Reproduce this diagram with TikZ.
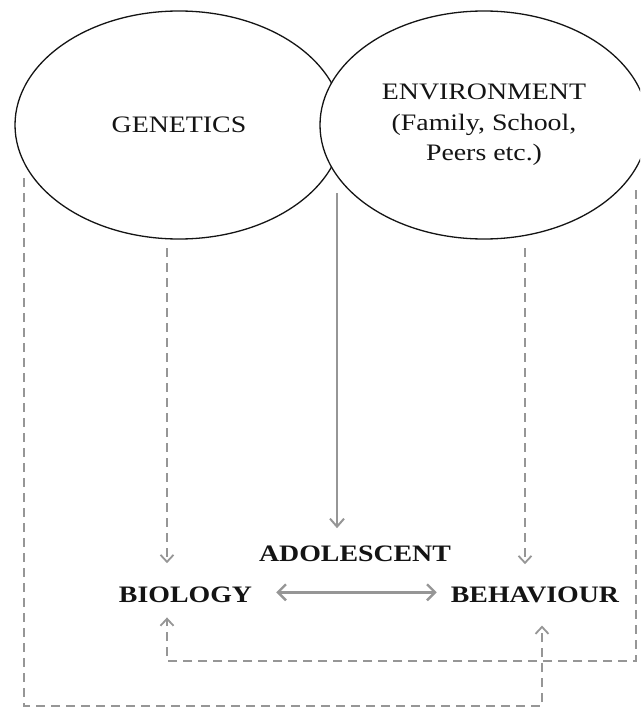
\documentclass[tikz,border=0pt]{standalone}
\usepackage{fontspec}
\setmainfont[FakeStretch=1.18]{Liberation Serif}
\usetikzlibrary{arrows.meta,shapes.geometric}
\definecolor{linegray}{RGB}{150,150,150}
\definecolor{inkblack}{RGB}{20,20,20}
\begin{document}
\begin{tikzpicture}[x=1pt,y=-1pt,
  factor/.style={ellipse,draw=inkblack,line width=1.3pt,fill=white,
    minimum width=328pt,minimum height=228pt,inner sep=0pt,
    font=\fontsize{23.6}{30.5}\selectfont,text=inkblack,align=center},
  label/.style={inner sep=0pt,anchor=base,
    font=\fontsize{23.6}{28}\selectfont\bfseries,text=inkblack},
  influence/.style={draw=linegray,line width=2.4pt,dash pattern=on 9pt off 6pt,
    -{Straight Barb[length=7pt,width=13pt,line width=1.8pt]}},
  direct/.style={draw=linegray,line width=2.4pt,
    -{Straight Barb[length=8pt,width=14pt,line width=2pt]}},
  mutual/.style={draw=linegray,line width=3.5pt,
    {Straight Barb[length=8pt,width=16pt,line width=2.4pt]}-{Straight Barb[length=8pt,width=16pt,line width=2.4pt]}}]
  \useasboundingbox (0,0) rectangle (640,709);
  \clip (0,0) rectangle (640,709);

  % the two sources of influence
  \node[factor] (gen) at (179,125) {GENETICS};
  \node[factor] (env) at (484,125) {ENVIRONMENT\\(Family, School,\\Peers etc.)};

  % the adolescent and its two aspects
  \node[label] (ado) at (355,561) {ADOLESCENT};
  \node[label] (bio) at (185.5,602) {BIOLOGY};
  \node[label] (beh) at (535,602) {BEHAVIOUR};

  % start and corner points of the connectors
  \coordinate (both) at (337,193);
  \coordinate (gdown) at (167,248);
  \coordinate (edown) at (525,248);
  \coordinate (gside) at (24,178);
  \coordinate (gcorner) at (24,706);
  \coordinate (hcorner) at (542,706);
  \coordinate (eside) at (636,190);
  \coordinate (ecorner) at (636,661);
  \coordinate (bcorner) at (167,661);

  % joint influence on the adolescent
  \draw[direct,shorten >=17pt] (both) -- (both |- ado.north);

  % direct influences
  \draw[influence,shorten >=23pt] (gdown) -- (gdown |- bio.north);
  \draw[influence,shorten >=22pt] (edown) -- (edown |- beh.north);

  % cross influences
  \draw[influence,shorten >=15pt] (eside) -- (ecorner) -- (bcorner) -- (bcorner |- bio.south);
  \draw[influence,shorten >=23pt] (gside) -- (gcorner) -- (hcorner) -- (hcorner |- beh.south);

  % biology and behaviour affect each other
  \draw[mutual,shorten <=24pt,shorten >=14pt] ([yshift=2pt]bio.east) -- ([yshift=2pt]bio.east -| beh.west);
\end{tikzpicture}
\end{document}
